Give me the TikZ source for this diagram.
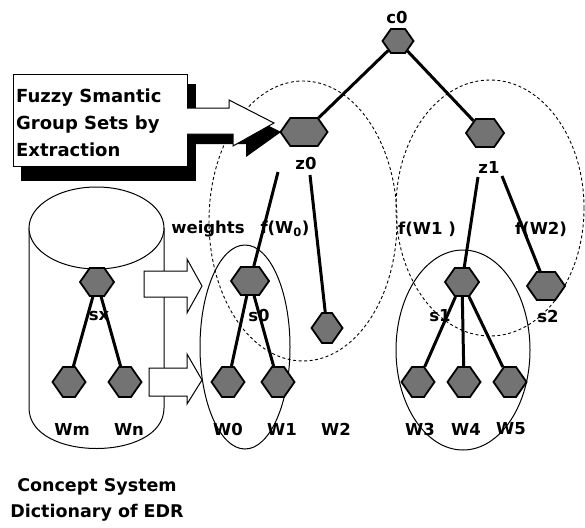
\documentclass[tikz,border=0pt]{standalone}
\usepackage{fontspec}
\setmainfont{DejaVu Sans}
\usetikzlibrary{shapes.symbols}
\tikzset{
  hexa/.style={signal, signal to=east and west, signal pointer angle=110,
    draw=black, line width=1.8pt, fill=black!55, minimum width=34,
    minimum height=28, inner sep=0pt},
  lbl/.style={font=\fontsize{16.5}{16.5}\selectfont\bfseries, inner sep=1pt},
  bigtxt/.style={font=\fontsize{18}{27}\selectfont\bfseries, inner sep=0pt},
  edge/.style={line width=3pt},
  grp/.style={line width=1pt},
  fuzzy/.style={line width=0.9pt, dash pattern=on 3pt off 2.5pt}
}
\begin{document}
\begin{tikzpicture}[x=1pt,y=-1pt]
\useasboundingbox (0,0) rectangle (585,527);
\draw[fuzzy] (303,221) ellipse [x radius=94, y radius=140];
\draw[fuzzy] (490,208) ellipse [x radius=94, y radius=128];
\draw[grp] (245,347) ellipse [x radius=45, y radius=102];
\draw[grp] (463,350) ellipse [x radius=67, y radius=100];
\draw[grp, fill=white] (29,228) -- (29,408)
  .. controls (29,462) and (164,462) .. (164,408) -- (164,228);
\draw[grp, fill=white] (96.5,228) ellipse [x radius=67.5, y radius=41];

\node[hexa, minimum width=31, minimum height=24] (c0) at (398,41) {};
\node[hexa, minimum width=47] (z0) at (304,132) {};
\node[hexa, minimum width=38] (z1) at (485,133) {};
\node[hexa] (sx) at (97,282) {};
\node[hexa, minimum width=38] (s0) at (250,281) {};
\node[hexa] (s1) at (462,282) {};
\node[hexa, minimum width=38] (s2) at (546,286) {};
\node[hexa, minimum width=31, minimum height=30] (w2) at (327,328) {};
\foreach \n/\x in {wm/69, wn/125, w0/228, w1/278, w3/418, w4/464, w5/510}
  \node[hexa, minimum width=33, minimum height=30] (\n) at (\x,382) {};

\node[lbl] (lc0) at (397,17) {c0};
\node[lbl] (lz0) at (306,163) {z0};
\node[lbl] (lz1) at (489,167) {z1};
\node[lbl] (lsx) at (99,316) {sx};
\node[lbl] (ls0) at (259,315) {s0};
\node[lbl] (ls1) at (440,316) {s1};
\node[lbl] (ls2) at (548,316) {s2};
\foreach \t/\x in {Wm/72, Wn/129, W0/228, W1/282, W2/336, W3/420, W4/466, W5/511}
  \node[lbl] (l\t) at (\x,429) {\t};
\node[lbl] (wt) at (208,229) {weights};
\node[lbl] (f0) at (285,229) {f(W\textsubscript{0})};
\node[lbl] (f1) at (427,229) {f(W1 )};
\node[lbl] (f2) at (541,229) {f(W2)};

\coordinate (z0a) at (278,172);
\coordinate (z0b) at (310,175);
\coordinate (z1a) at (478,177);
\coordinate (z1b) at (502,176);
\draw[edge] (c0) -- (z0);
\draw[edge] (c0) -- (z1);
\draw[edge] (z0a) -- (s0);
\draw[edge] (z0b) -- (w2);
\draw[edge] (z1a) -- (s1);
\draw[edge] (z1b) -- (s2);
\draw[edge] (sx) -- (wm);
\draw[edge] (sx) -- (wn);
\draw[edge] (s0) -- (w0);
\draw[edge] (s0) -- (w1);
\draw[edge] (s1) -- (w3);
\draw[edge] (s1) -- (w4);
\draw[edge] (s1) -- (w5);

\draw[grp, fill=white] (144,271) -- (187,271) -- (187,259) -- (202,286)
  -- (187,313) -- (187,297) -- (144,297) -- cycle;
\draw[grp, fill=white] (149,368) -- (187,368) -- (187,354) -- (202,380)
  -- (187,404) -- (187,396) -- (149,396) -- cycle;

\fill (21,84) rectangle (196,181);
\fill (194,118) -- (237,118) -- (237,110) -- (281,132) -- (246,157)
  -- (246,144) -- (194,144) -- cycle;
\draw[grp, fill=white] (13,74) rectangle (187,166);
\fill[white] (184,108) -- (229,108) -- (229,100) -- (274,123) -- (233,146)
  -- (233,134) -- (184,134) -- cycle;
\draw[grp] (187,108) -- (229,108) -- (229,100) -- (274,123) -- (233,146)
  -- (233,134) -- (187,134);
\node[bigtxt, anchor=west, align=left] (fz) at (16,123)
  {Fuzzy Smantic\\Group Sets by\\Extraction};
\node[bigtxt, font=\fontsize{17.5}{26}\selectfont\bfseries, align=center] (cs)
  at (97,500) {Concept System\\Dictionary of EDR};
\end{tikzpicture}
\end{document}
